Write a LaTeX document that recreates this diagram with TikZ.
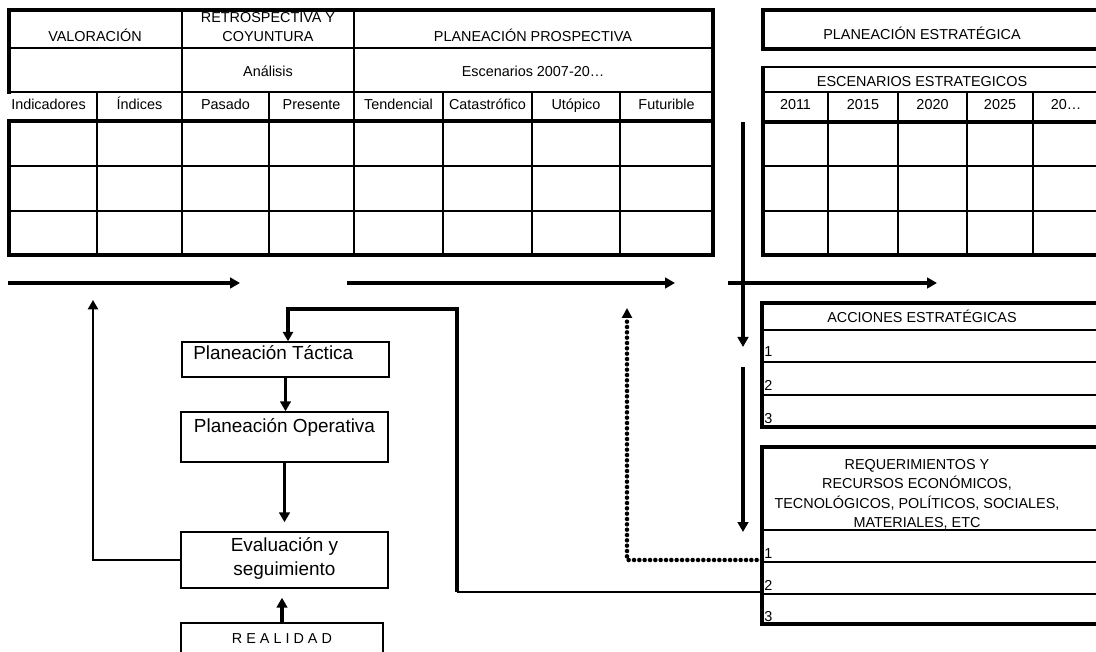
\documentclass[tikz,border=0pt]{standalone}
\usepackage{fontspec}
\setmainfont{Liberation Sans}
\usetikzlibrary{arrows.meta}
\begin{document}
\begin{tikzpicture}[x=0.75pt,y=-0.75pt,
  tt/.style={font=\fontsize{10.8}{14.6}\selectfont, inner sep=0pt, anchor=base},
  bt/.style={font=\fontsize{14.2}{18}\selectfont, inner sep=0pt, anchor=base},
  border/.style={line width=3.2pt},
  heavy/.style={line width=2.6pt},
  gridl/.style={line width=1.7pt},
  boxst/.style={draw, line width=1.1pt, inner sep=0pt},
  flow/.style={line width=2.4pt, -{Triangle[length=7.5pt,width=8pt]}},
  fb/.style={line width=1.6pt, -{Triangle[length=7pt,width=7.5pt]}},
  dots/.style={line width=3.4pt, line cap=round, dash pattern=on 0pt off 4pt, -{Triangle[length=7.5pt,width=7.5pt]}},
]
\useasboundingbox (0,0) rectangle (1096,652);
\clip (0,0) rectangle (1096,652);

% ---------- left table ----------
\draw[gridl] (9,48) -- (713,48) (9,92) -- (713,92) (9,166) -- (713,166) (9,211) -- (713,211);
\draw[heavy] (9,121) -- (713,121);
\draw[line width=1.9pt] (182,10) -- (182,255) (354,10) -- (354,255);
\foreach \x in {97,269,443,532,620} \draw[gridl] (\x,92) -- (\x,255);
\draw[border] (9,10) rectangle (713,255);
\fill[white] (5,94) rectangle (12.5,119);

\node[tt] (valor) at (95,42) {VALORACIÓN};
\begin{scope}
  \clip (184,12.5) rectangle (352,47);
  \node[tt] (retro1) at (268,22.5) {RETROSPECTIVA Y};
\end{scope}
\node[tt] (retro2) at (268,42) {COYUNTURA};
\node[tt] (prosp) at (533,42) {PLANEACIÓN PROSPECTIVA};
\node[tt] (anal) at (268,77) {Análisis};
\node[tt] (esc) at (533,77) {Escenarios 2007-20…};
\node[tt, anchor=base west] (c1) at (11,110) {Indicadores};
\node[tt] (c2) at (139.5,110) {Índices};
\node[tt] (c3) at (225.5,110) {Pasado};
\node[tt] (c4) at (311.5,110) {Presente};
\node[tt] (c5) at (398.5,110) {Tendencial};
\node[tt] (c6) at (487.5,110) {Catastrófico};
\node[tt] (c7) at (576,110) {Utópico};
\node[tt] (c8) at (666.5,110) {Futurible};

% ---------- right top ----------
\draw[border] (1110,10) -- (763,10) -- (763,49) -- (1110,49);
\node[tt] (pe) at (922,40) {PLANEACIÓN ESTRATÉGICA};

\draw[line width=2pt] (763,67) -- (1110,67);
\draw[gridl] (763,92) -- (1110,92) (763,166) -- (1110,166) (763,211) -- (1110,211);
\draw[heavy] (763,122) -- (1110,122);
\foreach \x in {828,898,967,1033} \draw[gridl] (\x,92) -- (\x,255);
\draw[border] (763,66) -- (763,255) -- (1110,255);
\node[tt] (ee) at (922,87) {ESCENARIOS ESTRATEGICOS};
\node[tt] (y1) at (795.5,110) {2011};
\node[tt] (y2) at (863,110) {2015};
\node[tt] (y3) at (932.5,110) {2020};
\node[tt] (y4) at (1000,110) {2025};
\node[tt] (y5) at (1066,110) {20…};

% ---------- acciones ----------
\draw[line width=2.2pt] (762,330) -- (1110,330);
\draw[gridl] (762,362) -- (1110,362) (762,395) -- (1110,395);
\draw[heavy] (1110,303) -- (762,303) -- (762,427) -- (1110,427);
\node[tt] (acc) at (922,323) {ACCIONES ESTRATÉGICAS};
\node[tt, anchor=base west] (a1) at (764,357) {1};
\node[tt, anchor=base west] (a2) at (764,390) {2};
\node[tt, anchor=base west] (a3) at (764,423) {3};

% ---------- requerimientos ----------
\draw[line width=2.2pt] (762,530) -- (1110,530);
\draw[gridl] (762,562) -- (1110,562) (762,594) -- (1110,594);
\draw[heavy] (1110,447) -- (762,447) -- (762,624) -- (1110,624);
\node[tt] (r1) at (917,469) {REQUERIMIENTOS Y};
\node[tt] (r2) at (917,488.5) {RECURSOS ECONÓMICOS,};
\node[tt] (r3) at (917,508) {TECNOLÓGICOS, POLÍTICOS, SOCIALES,};
\node[tt] (r4) at (917,527) {MATERIALES, ETC};
\node[tt, anchor=base west] (q1) at (764,558) {1};
\node[tt, anchor=base west] (q2) at (764,590) {2};
\node[tt, anchor=base west] (q3) at (764,621) {3};

% ---------- boxes ----------
\node[boxst, minimum width=155.25pt, minimum height=26.25pt] (tact) at (285.5,359.5) {};
\node[boxst, minimum width=155.25pt, minimum height=37.5pt] (oper) at (284.5,437) {};
\node[boxst, minimum width=155.25pt, minimum height=42pt] (eval) at (284.5,560) {};
\node[boxst, minimum width=151.5pt, minimum height=42.75pt] (real) at (282,651.5) {};
\node[bt, anchor=base west] (tactt) at (193,359) {Planeación Táctica};
\node[bt] (opert) at (284.5,432) {Planeación Operativa};
\node[bt] (evalt1) at (284.5,551) {Evaluación y};
\node[bt] (evalt2) at (284.5,575) {seguimiento};
\node[tt] (realt) at (282,643) {R E A L I D A D};

% ---------- arrows ----------
\coordinate (h1s) at (8,283);   \coordinate (h1e) at (240,283);
\coordinate (h2s) at (347,283); \coordinate (h2e) at (675,283);
\coordinate (h3s) at (728,283); \coordinate (h3e) at (937,283);
\coordinate (v1s) at (743,122); \coordinate (v1e) at (743,347);
\coordinate (v2s) at (743,367); \coordinate (v2e) at (743,532);
\draw[flow] (h1s) -- (h1e);
\draw[flow] (h2s) -- (h2e);
\draw[flow] (h3s) -- (h3e);
\draw[flow] (v1s) -- (v1e);
\draw[flow] (v2s) -- (v2e);

\coordinate (req1) at (762,560);
\coordinate (dtip) at (627,308);
\draw[dots] (req1) -| (dtip);

\coordinate (fbtop) at (93,300);
\draw[fb] (eval.west) -| (fbtop);

\coordinate (req2) at (762,592);
\coordinate (lp) at (457,592);
\coordinate (ltop) at (288,309);
\draw[line width=1.1pt] (req2) -- (lp);
\draw[line width=2.3pt, -{Triangle[length=7pt,width=7.5pt]}] (lp) |- (ltop) -- (ltop |- tact.north);

\draw[flow] (tact.south) -- (tact.south |- oper.north);
\draw[flow, shorten >=6.75pt] (oper.south) -- (eval.north);
\draw[flow, shorten >=6.75pt] (real.north) -- (real.north |- eval.south);
\end{tikzpicture}
\end{document}
